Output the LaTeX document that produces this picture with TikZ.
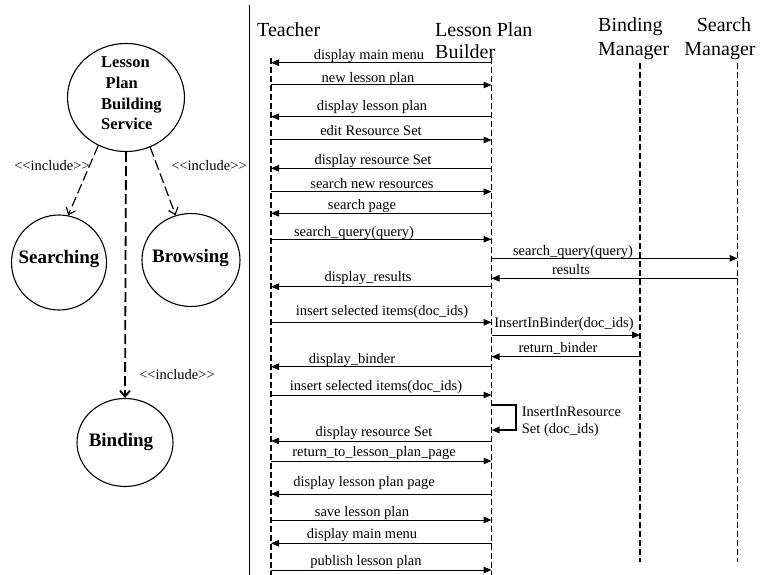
\documentclass[tikz,border=0pt]{standalone}
\usepackage{fontspec}
\setmainfont{Liberation Serif}
\usetikzlibrary{arrows.meta,shapes.geometric}

\begin{document}
\begin{tikzpicture}[x=1pt,y=-1pt,
  usecase/.style={draw,ellipse,line width=1.1pt,inner sep=0pt},
  uctext/.style={inner sep=0pt,anchor=base,font=\fontsize{19}{22}\selectfont\bfseries},
  uctextsm/.style={inner sep=0pt,anchor=base west,font=\fontsize{16.5}{20}\selectfont\bfseries},
  incl/.style={line width=1.2pt,dash pattern=on 10pt off 4pt,-{Straight Barb[length=6pt,width=10pt]}},
  incllabel/.style={inner sep=0pt,font=\fontsize{14.5}{16}\selectfont},
  hdr/.style={inner sep=0pt,anchor=base west,font=\fontsize{20}{24}\selectfont},
  life/.style={line width=1.6pt,dash pattern=on 6pt off 3pt},
  msg/.style={line width=1pt,-{Triangle[length=8pt,width=6.5pt]}},
  msglabel/.style={inner sep=0pt,anchor=base,font=\fontsize{14.5}{17}\selectfont},
]
\useasboundingbox (0,0) rectangle (764,575);

% ---------- use case part ----------
\node[usecase,minimum width=117pt,minimum height=108pt] (lpbs) at (126,97.5) {};
\node[usecase,minimum width=95pt,minimum height=95pt] (search) at (59,262.5) {};
\node[usecase,minimum width=98pt,minimum height=93pt] (browse) at (191,260) {};
\node[usecase,minimum width=96pt,minimum height=88pt] (bind) at (125,442.5) {};

\node[uctextsm] (lpbs1) at (101,68) {Lesson};
\node[uctextsm] (lpbs2) at (105.5,88.5) {Plan};
\node[uctextsm] (lpbs3) at (101,110) {Building};
\node[uctextsm] (lpbs4) at (101,130) {Service};
\node[uctext] (tsearch) at (59,264) {Searching};
\node[uctext] (tbrowse) at (190.5,262.5) {Browsing};
\node[uctext] (tbind) at (121,446.5) {Binding};

\draw[incl] (lpbs.240) -- (search.79);
\draw[incl] (lpbs.296) -- (browse.109);
\draw[incl,line width=1.8pt] (lpbs.south) -- (bind.north);

\node[incllabel] (inc1) at (52,166) {\textless\kern0pt\textless include\textgreater\kern0pt\textgreater};
\node[incllabel] (inc2) at (209,166) {\textless\kern0pt\textless include\textgreater\kern0pt\textgreater};
\node[incllabel] (inc3) at (177,375) {\textless\kern0pt\textless include\textgreater\kern0pt\textgreater};

% separator
\coordinate (sepT) at (249.5,5);
\coordinate (sepB) at (249.5,575);
\draw[line width=1.2pt] (sepT) -- (sepB);

% ---------- sequence part ----------
\node[hdr] (hT) at (257,37) {Teacher};
\node[hdr] (hL1) at (435,36.5) {Lesson Plan};
\node[hdr] (hL2) at (435,59) {Builder};
\node[hdr] (hB1) at (598,32) {Binding};
\node[hdr] (hB2) at (598,55.5) {Manager};
\node[hdr,anchor=base] (hS1) at (724,32) {Search};
\node[hdr,anchor=base] (hS2) at (720,55.5) {Manager};

\coordinate (Ttop) at (271,58);   \coordinate (Tbot) at (271,575);
\coordinate (Ltop) at (491.5,58); \coordinate (Lbot) at (491.5,575);
\coordinate (Btop) at (640,63);   \coordinate (Bbot) at (640,562);
\coordinate (Stop) at (737.5,63); \coordinate (Sbot) at (737.5,562);
\draw[life] (Ttop) -- (Tbot);
\draw[life] (Ltop) -- (Lbot);
\draw[life] (Btop) -- (Bbot);
\draw[life] (Stop) -- (Sbot);

\foreach \i/\a/\b/\y/\lx/\ly/\t in {
  1/Ltop/Ttop/62.7/369/60/display main menu,
  2/Ttop/Ltop/85/368/82.7/new lesson plan,
  3/Ltop/Ttop/116.7/372/111/display lesson plan,
  4/Ttop/Ltop/140/371/136/edit Resource Set,
  5/Ltop/Ttop/168.3/373/165/display resource Set,
  6/Ttop/Ltop/191.7/372/188.3/search new resources,
  7/Ltop/Ttop/213.3/362/209.3/search page,
  8/Ttop/Ltop/239.3/354/236.7/search\_query(query),
  9/Ltop/Stop/258.3/573/255/search\_query(query),
  10/Stop/Ltop/278.3/571/275/results,
  11/Ltop/Ttop/286.7/368/281.7/display\_results,
  12/Ttop/Ltop/322.3/382/315.7/insert selected items(doc\_ids),
  13/Ltop/Btop/335/564/327.3/InsertInBinder(doc\_ids),
  14/Btop/Ltop/356.7/558/352.7/return\_binder,
  15/Ltop/Ttop/366.7/352/363.3/display\_binder,
  16/Ttop/Ltop/395/376/390/insert selected items(doc\_ids),
  18/Ltop/Ttop/441/374/436/display resource Set,
  19/Ttop/Ltop/461/374/456/return\_to\_lesson\_plan\_page,
  20/Ltop/Ttop/494/364/486.7/display lesson plan page,
  21/Ttop/Ltop/520/362/516.7/save lesson plan,
  22/Ltop/Ttop/543.3/362/538.3/display main menu,
  23/Ttop/Ltop/570/366/565/publish lesson plan}{
  \draw[msg] (\a |- 0,\y) -- (\b |- 0,\y);
  \node[msglabel] (m\i) at (\lx,\ly) {\t};
}

% self call on the builder
\coordinate (selfR) at (516,405);
\draw[msg,line width=1.3pt] (Ltop |- 0,405) -- (selfR) -- (selfR |- 0,430) -- (Ltop |- 0,430);
\node[msglabel,anchor=base west] (m17a) at (521.7,416.7) {InsertInResource};
\node[msglabel,anchor=base west] (m17b) at (521.7,433.3) {Set (doc\_ids)};
\end{tikzpicture}
\end{document}
